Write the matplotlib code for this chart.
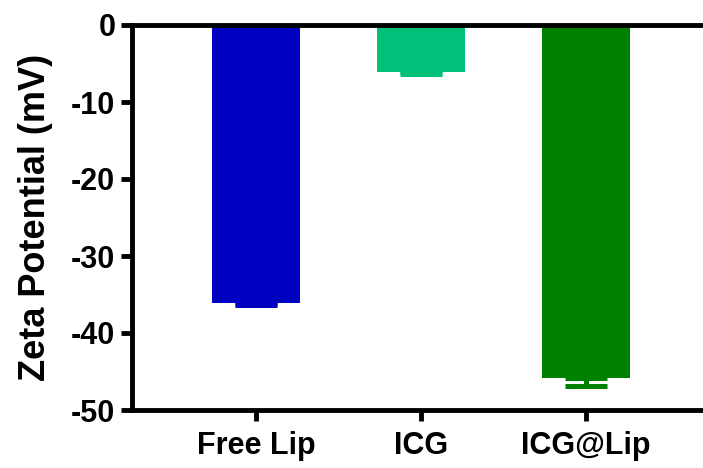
import matplotlib
matplotlib.use("Agg")
import matplotlib.pyplot as plt
import numpy as np

categories = ["Free Lip", "ICG", "ICG@Lip"]
values = [-36.1, -6.1, -45.9]
errors = [0.3, 0.3, 1.0]
colors = ["#0000C0", "#00C07A", "#008000"]
yticks = [0, -10, -20, -30, -40, -50]

plt.rcParams['font.family'] = ['Liberation Sans', 'DejaVu Sans']
plt.rcParams['font.weight'] = 'bold'

fig = plt.figure(figsize=(7.03, 4.68), dpi=100)
ax = fig.add_axes([132/703, 1-410/468, 1-132/703, (410-25)/468])

x = np.arange(len(categories))
ax.bar(x, values, width=0.533, color=colors, zorder=2)
for xi, v, e, c in zip(x, values, errors, colors):
    ax.errorbar(xi, v, yerr=[[e], [0]], fmt='none', ecolor=c, elinewidth=3.6,
                capsize=15, capthick=3.6, zorder=1)

ax.set_xlim(-0.7515, 2.709)
ax.set_ylim(-50, 0)
ax.set_yticks(yticks)
ax.set_yticklabels([str(t) for t in yticks])
ax.set_xticks(x)
ax.set_xticklabels(categories)

for s in ['left', 'bottom', 'top']:
    ax.spines[s].set_linewidth(3.5)
    ax.spines[s].set_color('black')
ax.spines['right'].set_visible(False)
ax.spines['top'].set_zorder(3)

ax.tick_params(axis='y', length=8, width=3.5, labelsize=22, pad=4)
ax.tick_params(axis='x', length=8, width=3.5, labelsize=22, pad=7)
ax.set_ylabel("Zeta Potential (mV)", fontsize=26, fontweight='bold', labelpad=13)

fig.savefig("out.png", dpi=100)
